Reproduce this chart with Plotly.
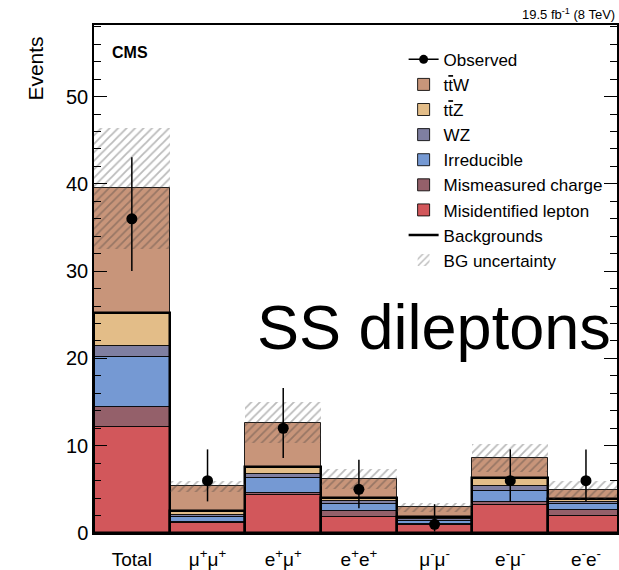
import numpy as np
import plotly.graph_objects as go

# ---------------- data ----------------
categories = ["Total", "μ<sup>+</sup>μ<sup>+</sup>", "e<sup>+</sup>μ<sup>+</sup>",
              "e<sup>+</sup>e<sup>+</sup>", "μ<sup>-</sup>μ<sup>-</sup>",
              "e<sup>-</sup>μ<sup>-</sup>", "e<sup>-</sup>e<sup>-</sup>"]
mis_lepton = [12.2, 1.2, 4.3, 1.83, 0.95, 3.2, 1.9]
mis_charge = [2.2, 0.1, 0.3, 0.65, 0.05, 0.4, 0.75]
irreducible = [5.8, 0.55, 1.65, 0.9, 0.4, 1.2, 0.65]
wz = [1.2, 0.25, 0.5, 0.25, 0.15, 0.6, 0.3]
ttz = [3.8, 0.45, 0.8, 0.4, 0.3, 0.85, 0.3]
ttw = [14.3, 2.8, 5.1, 2.15, 1.1, 2.3, 1.05]
bg_unc = [6.95, 0.65, 2.35, 1.15, 0.5, 1.6, 1.0]
observed = [36, 6, 12, 5, 1, 6, 6]
obs_err_up = [7.05, 3.58, 4.61, 3.38, 2.30, 3.58, 3.58]
obs_err_down = [5.97, 2.38, 3.41, 2.16, 0.83, 2.38, 2.38]

FONT = "Liberation Sans, Arial, Helvetica, sans-serif"

components = [
    ("Misidentified lepton", mis_lepton, "#d2575b"),
    ("Mismeasured charge", mis_charge, "#94606a"),
    ("Irreducible", irreducible, "#7599d3"),
    ("WZ", wz, "#7f7fa1"),
    ("t<span style='text-decoration:overline'>t</span>Z", ttz, "#e3bd88"),
    ("t<span style='text-decoration:overline'>t</span>W", ttw, "#c8957a"),
]
legend_rank = {"Misidentified lepton": 7, "Mismeasured charge": 6, "Irreducible": 5,
               "WZ": 4}

n = len(categories)
centers = np.arange(n) + 0.5

fig = go.Figure()
base = np.zeros(n)
for i, (name, vals, col) in enumerate(components):
    vals = np.array(vals, dtype=float)
    rank = legend_rank.get(name, 3 if "Z" in name else 2)
    fig.add_trace(go.Bar(
        x=centers, y=vals, base=base, width=1.0, name=name,
        marker=dict(color=col, line=dict(color="rgba(0,0,0,0.85)", width=1)),
        legendrank=rank, hoverinfo="skip"))
    base = base + vals
    if i == 4:
        bg_total = base.copy()

total = base
unc = np.array(bg_unc)

# Backgrounds outline
fig.add_trace(go.Bar(
    x=centers, y=bg_total, base=np.zeros(n), width=1.0, showlegend=False,
    marker=dict(color="rgba(0,0,0,0)", line=dict(color="black", width=2.5)),
    hoverinfo="skip"))

# BG uncertainty hatch
fig.add_trace(go.Bar(
    x=centers, y=2 * unc, base=total - unc, width=1.0, name="BG uncertainty",
    marker=dict(color="rgba(0,0,0,0)", line=dict(width=0),
                pattern=dict(shape="/", fgcolor="rgba(60,60,60,0.7)",
                             bgcolor="rgba(0,0,0,0)", size=6, solidity=0.3)),
    legendrank=9, hoverinfo="skip"))

# legend-only entries
fig.add_trace(go.Scatter(x=[None], y=[None], mode="lines", name="Backgrounds",
                         line=dict(color="black", width=2.5), legendrank=8))
fig.add_trace(go.Scatter(x=[None], y=[None], mode="lines+markers", name="Observed",
                         line=dict(color="black", width=1.5),
                         marker=dict(color="black", size=9), legendrank=1))

# Observed
fig.add_trace(go.Scatter(
    x=centers, y=observed, mode="markers", showlegend=False,
    marker=dict(color="black", size=11),
    error_y=dict(type="data", symmetric=False, array=obs_err_up,
                 arrayminus=obs_err_down, color="black", thickness=1.5, width=0)))

fig.update_layout(
    width=619, height=570,
    margin=dict(l=94, r=0, t=25, b=35),
    paper_bgcolor="white", plot_bgcolor="white",
    barmode="overlay", bargap=0,
    font=dict(family=FONT, color="black"),
    legend=dict(x=0.592, y=0.967, xanchor="left", yanchor="top",
                bgcolor="rgba(0,0,0,0)", font=dict(size=17, family=FONT),
                itemwidth=30, tracegroupgap=0),
    showlegend=True,
)

fig.update_xaxes(
    range=[0, 6.91], tickmode="array", tickvals=centers, ticktext=categories,
    ticks="", tickfont=dict(size=19, family=FONT), ticklabelstandoff=8,
    showline=True, linecolor="black", linewidth=1.5, mirror=True,
    showgrid=False, zeroline=False,
    minor=dict(tickmode="array", tickvals=list(range(n + 1)), ticks="inside",
               ticklen=14, tickcolor="black", tickwidth=1.2, showgrid=False),
)
fig.update_yaxes(
    range=[0, 58.2], tickmode="linear", tick0=0, dtick=10,
    ticks="inside", ticklen=13, tickwidth=1.2, tickcolor="black",
    tickfont=dict(size=20, family=FONT),
    showline=True, linecolor="black", linewidth=1.5, mirror="ticks",
    showgrid=False, zeroline=False,
    minor=dict(dtick=2, ticks="inside", ticklen=7, tickcolor="black",
               tickwidth=1, showgrid=False),
)

fig.add_annotation(text="Events", textangle=-90, xref="paper", yref="paper",
                   x=-0.112, y=0.915, xanchor="center", yanchor="middle",
                   showarrow=False, font=dict(size=21, family=FONT))
fig.add_annotation(text="<b>CMS</b>", xref="paper", yref="paper",
                   x=0.03, y=0.945, xanchor="left", yanchor="middle",
                   showarrow=False, font=dict(size=16, family=FONT))
fig.add_annotation(text="19.5 fb<sup>-1</sup> (8 TeV)", xref="paper", yref="paper",
                   x=1.0, y=1.0, xanchor="right", yanchor="bottom", yshift=1,
                   showarrow=False, font=dict(size=13, family=FONT))
fig.add_annotation(text="SS dileptons", xref="paper", yref="paper",
                   x=0.993, y=0.405, xanchor="right", yanchor="middle",
                   showarrow=False, font=dict(size=63, family=FONT))

fig.write_html("out.html")
